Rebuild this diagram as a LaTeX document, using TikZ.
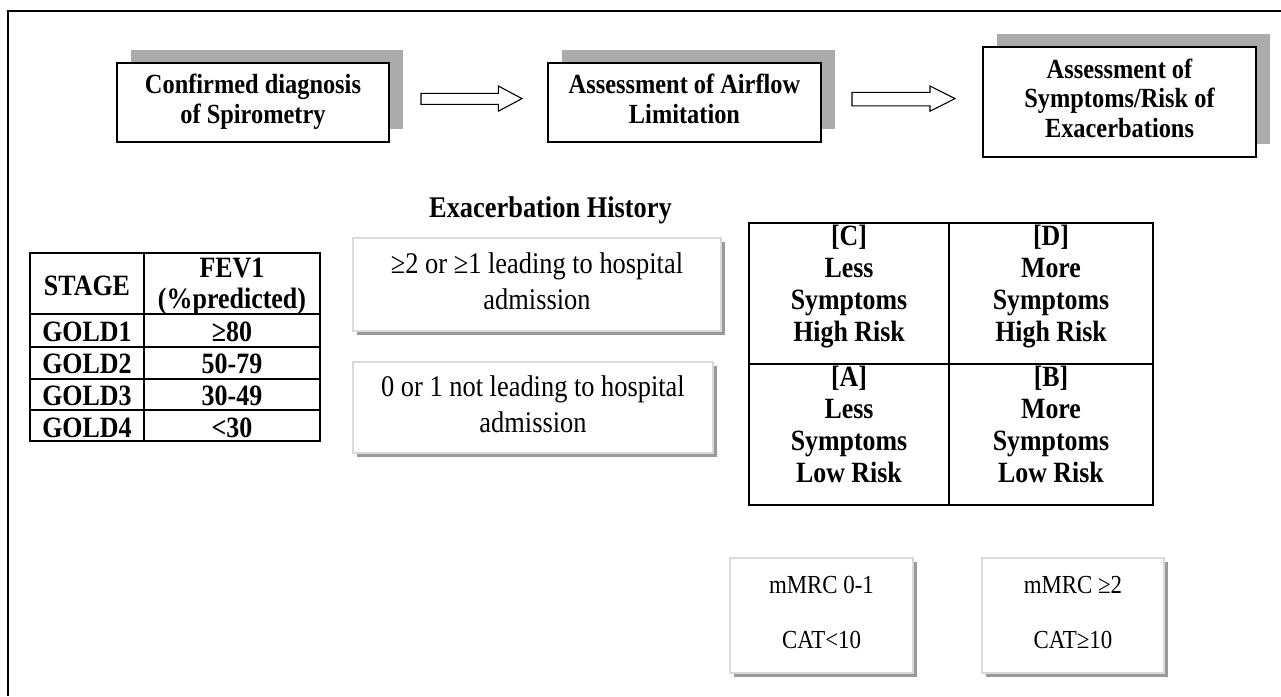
\documentclass[tikz,border=0pt]{standalone}
\usepackage{fontspec}
\setmainfont{Liberation Serif}[FakeStretch=0.88]
\usetikzlibrary{shadows}
\newcommand\mlines[1]{\begin{tabular}[t]{@{}c@{}}#1\end{tabular}}
\definecolor{shadowgray}{HTML}{ABABAB}
\definecolor{softedge}{HTML}{DADADA}
\definecolor{softshadow}{HTML}{999999}
\begin{document}
\begin{tikzpicture}[x=1pt,y=-1pt,
  frameline/.style={line width=1.6pt, draw=black},
  topbox/.style={draw=black, line width=1.3pt, fill=white, inner sep=0pt,
    drop shadow={shadow xshift=14pt, shadow yshift=13.5pt, fill=shadowgray, opacity=1},
    font=\fontsize{27.7}{29.5}\selectfont\bfseries},
  blockarrow/.style={draw=black, line width=1.1pt, fill=white, line join=miter},
  softbox/.style={draw=softedge, line width=2pt, fill=white, inner sep=0pt,
    drop shadow={shadow xshift=3.5pt, shadow yshift=-3.5pt, fill=softshadow, opacity=1}},
  softtext/.style={font=\fontsize{30}{36}\selectfont},
  mtext/.style={font=\fontsize{26}{26}\selectfont},
  title/.style={font=\fontsize{30}{32}\selectfont\bfseries, anchor=base, inner sep=0pt},
  tableline/.style={draw=black, line width=1.4pt},
  ttext/.style={font=\fontsize{29.5}{30.3}\selectfont\bfseries, anchor=base, inner sep=0pt},
  gtext/.style={font=\fontsize{29.4}{32}\selectfont\bfseries, anchor=base, inner sep=0pt}
]
\useasboundingbox (0,0) rectangle (1281,696);
\fill[white] (0,0) rectangle (1281,696);
% outer frame
\draw[frameline] (8,696) -- (8,11) -- (1281,11);

% top row boxes
\node[topbox, minimum width=272pt, minimum height=79pt] (b1) at (253,102.5)
  {\mlines{Confirmed diagnosis\\of Spirometry}};
\node[topbox, minimum width=273pt, minimum height=79pt] (b2) at (684.5,102.5)
  {\mlines{Assessment of Airflow\\Limitation}};
\node[topbox, minimum width=273pt, minimum height=110pt] (b3) at (1119.5,102)
  {\mlines{Assessment of\\Symptoms/Risk of\\Exacerbations}};

% block arrows
\draw[blockarrow] (421,93.3) -- (498.3,93.3) -- (498.3,86) -- (522,98.6)
  -- (498.3,111.2) -- (498.3,104.3) -- (421,104.3) -- cycle;
\draw[blockarrow] (852,92.3) -- (930,92.3) -- (930,86) -- (955,98.6)
  -- (930,111.2) -- (930,105.8) -- (852,105.8) -- cycle;

% exacerbation history
\node[title] (exT) at (550.5,217) {Exacerbation History};
\node[softbox, softtext, minimum width=368pt, minimum height=93pt] (exA) at (537,284.5)
  {\mlines{≥2 or ≥1 leading to hospital\\admission}};
\node[softbox, softtext, minimum width=360pt, minimum height=91pt] (exB) at (533,407.5)
  {\mlines{0 or 1 not leading to hospital\\admission}};

% GOLD table
\draw[tableline] (30,253) rectangle (320,441);
\draw[tableline] (144,253) -- (144,441);
\draw[tableline] (30,314) -- (320,314);
\draw[tableline] (30,347) -- (320,347);
\draw[tableline] (30,379) -- (320,379);
\draw[tableline] (30,410) -- (320,410);
\node[ttext] (tS) at (87,295) {STAGE};
\node[ttext] (tF) at (232,277.7) {\mlines{FEV1\\(\%predicted)}};
\node[ttext] (g1) at (87,341) {GOLD1};
\node[ttext] (v1) at (232,341) {≥80};
\node[ttext] (g2) at (87,373) {GOLD2};
\node[ttext] (v2) at (232,373) {50-79};
\node[ttext] (g3) at (87,405) {GOLD3};
\node[ttext] (v3) at (232,405) {30-49};
\node[ttext] (g4) at (87,437) {GOLD4};
\node[ttext] (v4) at (232,437) {<30};

% ABCD grid
\draw[tableline] (749,223) rectangle (1153,505);
\draw[tableline] (949,223) -- (949,505);
\draw[tableline] (749,364) -- (1153,364);
\node[gtext] (gC) at (849,245) {\mlines{[C]\\Less\\Symptoms\\High Risk}};
\node[gtext] (gD) at (1051,245) {\mlines{[D]\\More\\Symptoms\\High Risk}};
\node[gtext] (gA) at (849,386.5) {\mlines{[A]\\Less\\Symptoms\\Low Risk}};
\node[gtext] (gB) at (1051,386.5) {\mlines{[B]\\More\\Symptoms\\Low Risk}};

% mMRC / CAT boxes
\node[softbox, mtext, minimum width=183pt, minimum height=115pt] (mA) at (821.5,615.5)
  {\mlines{mMRC 0-1\\[29pt]CAT<10}};
\node[softbox, mtext, minimum width=182pt, minimum height=115pt] (mB) at (1073,615.5)
  {\mlines{mMRC ≥2\\[29pt]CAT≥10}};
\end{tikzpicture}
\end{document}
